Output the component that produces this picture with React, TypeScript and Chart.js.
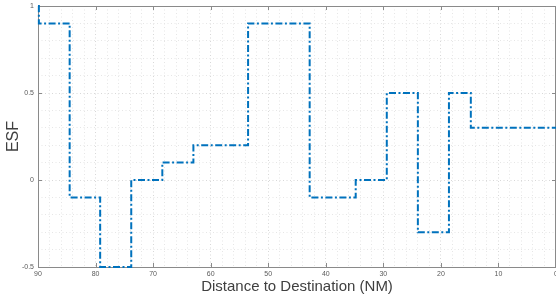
import React, { useEffect, useRef } from "react";
import { Chart, registerables } from "chart.js";

Chart.register(...registerables);

// Step starts (distance NM) and ESF levels held from each start
const distances = [90, 89.85, 84.5, 79.2, 73.8, 68.4, 63, 53.5, 42.8, 34.8, 29.4, 24, 18.6, 14.8, 0];
const esf = [1, 0.9, -0.1, -0.5, 0, 0.1, 0.2, 0.9, -0.1, 0, 0.5, -0.3, 0.5, 0.3, 0.3];
const xMajorTicks = [90, 80, 70, 60, 50, 40, 30, 20, 10, 0];
const yMajorTicks = [-0.5, 0, 0.5, 1];

const FONT = "'Liberation Sans', Arial, sans-serif";

const isMajorY = (v: number) => yMajorTicks.some((t) => Math.abs(t - v) < 1e-6);
const isMajorX = (v: number) => xMajorTicks.some((t) => Math.abs(t - v) < 1e-6);

const framePlugin = {
  id: "frame",
  beforeDatasetsDraw(chart: any) {
    const { ctx, chartArea } = chart;
    const { left, right, top, bottom } = chartArea;
    const xs = chart.scales.x;
    const ys = chart.scales.y;
    ctx.save();
    ctx.strokeStyle = "#8a8a8a";
    ctx.lineWidth = 1;
    ctx.beginPath();
    ctx.rect(left + 0.5, top + 0.5, right - left - 1, bottom - top);
    ctx.stroke();
    ctx.beginPath();
    const tl = 4;
    xMajorTicks.forEach((t) => {
      const px = Math.round(xs.getPixelForValue(t)) + 0.5;
      ctx.moveTo(px, bottom);
      ctx.lineTo(px, bottom - tl);
      ctx.moveTo(px, top);
      ctx.lineTo(px, top + tl);
    });
    yMajorTicks.forEach((t) => {
      const py = Math.round(ys.getPixelForValue(t)) + 0.5;
      ctx.moveTo(left, py);
      ctx.lineTo(left + tl, py);
      ctx.moveTo(right, py);
      ctx.lineTo(right - tl, py);
    });
    ctx.stroke();
    ctx.restore();
  },
};

export default function App() {
  const ref = useRef<HTMLCanvasElement | null>(null);
  useEffect(() => {
    document.body.style.margin = "0";
    const canvas = ref.current;
    if (!canvas) return;
    const chart = new Chart(canvas, {
      type: "line",
      data: {
        datasets: [
          {
            data: distances.map((d, i) => ({ x: d, y: esf[i] })),
            borderColor: "#0072BD",
            borderWidth: 2,
            borderDash: [7, 2.5, 2, 2.5],
            stepped: "before",
            pointRadius: 0,
            fill: false,
            clip: 3,
          },
        ],
      },
      options: {
        animation: false,
        responsive: false,
        maintainAspectRatio: false,
        layout: { padding: { top: 6, right: 0, left: 0, bottom: 0 } },
        plugins: { legend: { display: false }, tooltip: { enabled: false } },
        scales: {
          x: {
            type: "linear",
            reverse: true,
            min: 0,
            max: 90,
            afterFit: (s: any) => {
              s.height = 33;
              s.paddingLeft = 0;
              s.paddingRight = 0;
            },
            grid: {
              drawTicks: false,
              color: (c: any) => (isMajorX(c.tick.value) ? "#d8d8d8" : "#e6e6e6"),
              lineWidth: 1,
            },
            border: { display: false, dash: [1, 2.5] },
            ticks: {
              stepSize: 2,
              autoSkip: false,
              maxRotation: 0,
              padding: 3,
              color: "#5a5a5a",
              font: { family: FONT, size: 7 },
              callback: (v: any) => (isMajorX(Number(v)) ? String(v) : ""),
            },
            title: {
              display: true,
              text: "Distance to Destination (NM)",
              color: "#404040",
              font: { family: FONT, size: 15 },
              padding: { top: 0, bottom: 4 },
            },
          },
          y: {
            type: "linear",
            min: -0.5,
            max: 1,
            afterFit: (s: any) => {
              s.width = 38;
              s.paddingTop = 0;
              s.paddingBottom = 0;
            },
            grid: {
              drawTicks: false,
              color: (c: any) => (isMajorY(c.tick.value) ? "#d8d8d8" : "#e6e6e6"),
              lineWidth: 1,
            },
            border: { display: false, dash: [1, 2.5] },
            ticks: {
              stepSize: 0.1,
              autoSkip: false,
              padding: 4,
              color: "#5a5a5a",
              font: { family: FONT, size: 7 },
              callback: (v: any) => {
                const n = Number(v);
                if (!isMajorY(n)) return "";
                return String(Math.round(n * 10) / 10);
              },
            },
            title: {
              display: true,
              text: "ESF",
              color: "#404040",
              font: { family: FONT, size: 16 },
              padding: { top: 4, bottom: 0 },
            },
          },
        },
      },
      plugins: [framePlugin],
    });
    return () => chart.destroy();
  }, []);
  return (
    <div style={{ width: 556, height: 300, overflow: "hidden", background: "#fff" }}>
      <canvas ref={ref} width={556} height={300} style={{ display: "block" }} />
    </div>
  );
}
